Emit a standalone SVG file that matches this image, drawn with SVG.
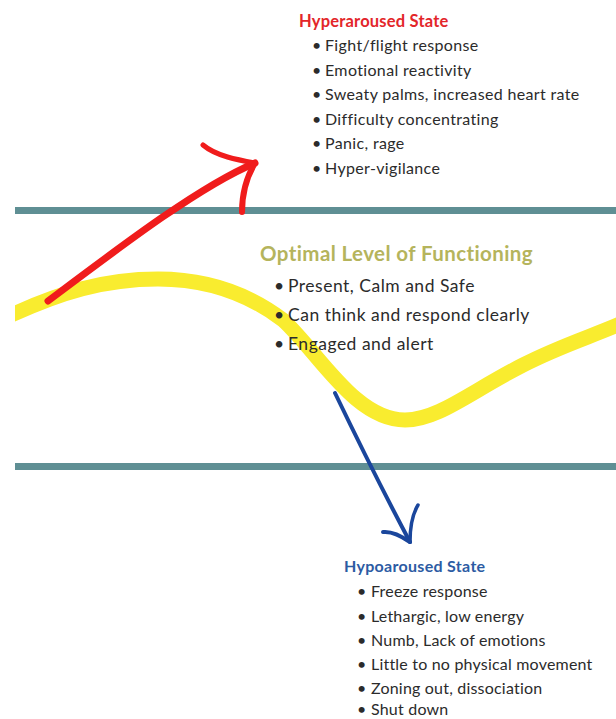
<svg xmlns="http://www.w3.org/2000/svg" width="616" height="719" viewBox="0 0 616 719">
<defs>
<clipPath id="clipR"><rect x="15" y="0" width="601" height="719"/></clipPath>
<style>
.t{font-family:Lato,"Open Sans","Liberation Sans",sans-serif;fill:#2b2b2b;}
.s{font-size:16px;letter-spacing:0.35px;}
.p{font-size:16px;letter-spacing:0.2px;}
.m{font-size:17.5px;letter-spacing:0.5px;}
.h{font-weight:bold;}
.band{fill:#5f8f94;}
.red{stroke:#f01c1c;fill:none;stroke-linecap:round;stroke-linejoin:round;}
.blue{stroke:#1a469c;fill:none;stroke-linecap:round;stroke-linejoin:round;}
</style>
</defs>
<rect width="616" height="719" fill="#ffffff"/>
<g id="bands">
<rect class="band" x="15" y="207" width="601" height="7"/>
<rect class="band" x="15" y="463" width="601" height="7"/>
</g>
<path id="wave" clip-path="url(#clipR)" d="M5,318 C 60,292 105,279 158,279 C 210,279 250,295 283,320 C 318,352 355,420 405,420 C 438,420 470,392 523,365 C 560,346 590,337 620,324" fill="none" stroke="#f9ec2f" stroke-width="15"/>
<g id="hyper">
<text class="t h" x="299" y="27" font-size="16.5" style="fill:#e3262a;letter-spacing:0.2px">Hyperaroused State</text>
<g class="t s">
<text x="312" y="51">•</text><text x="325" y="51">Fight/flight response</text>
<text x="312" y="75.5">•</text><text x="325" y="75.5">Emotional reactivity</text>
<text x="312" y="100">•</text><text x="325" y="100">Sweaty palms, increased heart rate</text>
<text x="312" y="124.5">•</text><text x="325" y="124.5">Difficulty concentrating</text>
<text x="312" y="149">•</text><text x="325" y="149">Panic, rage</text>
<text x="312" y="173.5">•</text><text x="325" y="173.5">Hyper-vigilance</text>
</g>
</g>
<g id="optimal">
<text class="t h" x="260" y="261" font-size="20.5" style="fill:#b5b45c;letter-spacing:0.4px">Optimal Level of Functioning</text>
<g class="t m">
<text x="274" y="292">•</text><text x="288" y="292">Present, Calm and Safe</text>
<text x="274" y="321">•</text><text x="288" y="321">Can think and respond clearly</text>
<text x="274" y="350">•</text><text x="288" y="350">Engaged and alert</text>
</g>
</g>
<g id="hypo">
<text class="t h" x="344" y="572" font-size="16" style="fill:#2c5ba3;letter-spacing:0.3px">Hypoaroused State</text>
<g class="t p">
<text x="357" y="597">•</text><text x="371" y="597">Freeze response</text>
<text x="357" y="621.5">•</text><text x="371" y="621.5">Lethargic, low energy</text>
<text x="357" y="646">•</text><text x="371" y="646">Numb, Lack of emotions</text>
<text x="357" y="670">•</text><text x="371" y="670">Little to no physical movement</text>
<text x="357" y="694">•</text><text x="371" y="694">Zoning out, dissociation</text>
<text x="357" y="715">•</text><text x="371" y="715">Shut down</text>
</g>
</g>
<g id="connectors">
<g id="arrow-up">
<path class="red" stroke-width="7" d="M48,301 C 120,247 200,186 255,163"/>
<path class="red" stroke-width="5" d="M255,163 C 238,160 216,156 203,145"/>
<path class="red" stroke-width="6" d="M255,163 C 246,178 242,195 242,212"/>
</g>
<g id="arrow-down">
<path class="blue" stroke-width="4" d="M335,393 C 360,445 385,495 410,542"/>
<path class="blue" stroke-width="3.5" d="M410,542 C 410,528 412,515 418,505"/>
<path class="blue" stroke-width="4" d="M410,542 C 400,535 392,531 383,532"/>
</g>
</g>
</svg>
